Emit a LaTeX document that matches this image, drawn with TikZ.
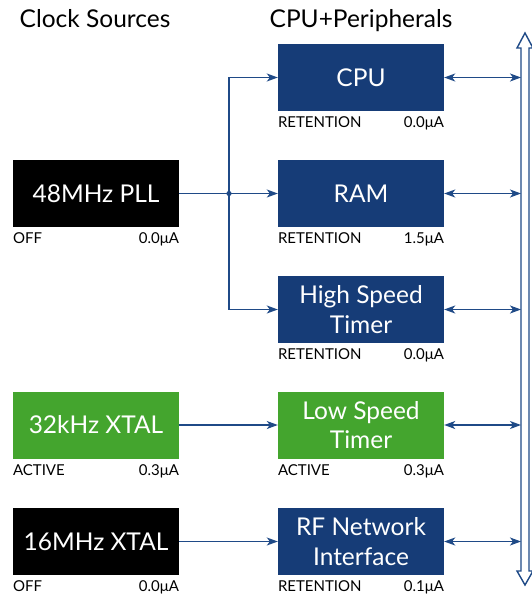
\documentclass[tikz,border=0pt]{standalone}
\usepackage{fontspec}
\setmainfont{Lato}
\usetikzlibrary{arrows.meta}

\definecolor{chipblue}{HTML}{163C77}
\definecolor{chipgreen}{HTML}{44A52E}
\definecolor{wireblue}{HTML}{1F4A87}

\begin{document}
\begin{tikzpicture}[x=1pt,y=-1pt,
    block/.style={minimum width=166pt,minimum height=67pt,inner sep=0pt,text=white,align=center,font=\fontsize{24.5pt}{29.5pt}\selectfont},
    title/.style={font=\fontsize{24.5pt}{24.5pt}\selectfont,inner sep=0pt,anchor=base},
    state/.style={font=\fontsize{15pt}{15pt}\selectfont,inner sep=0pt},
    wire/.style={draw=wireblue,line width=1.3pt},
    tip/.style={-{Stealth[length=11pt,width=8pt,inset=3pt]}},
    both/.style={{Stealth[length=11pt,width=8pt,inset=3pt]}-{Stealth[length=11pt,width=8pt,inset=3pt]}}]
    \useasboundingbox (0,0) rectangle (531,594);

    % headings
    \node[title] (hsrc) at (95,28) {Clock Sources};
    \node[title] (hper) at (361,28) {CPU+Peripherals};

    % clock sources
    \node[block,fill=black] (pll) at (96,193.5) {48MHz PLL};
    \node[block,fill=chipgreen] (xlow) at (96,425) {32kHz XTAL};
    \node[block,fill=black] (xhigh) at (96,541.5) {16MHz XTAL};

    % cpu and peripherals
    \node[block,fill=chipblue] (cpu) at (361,77.5) {CPU};
    \node[block,fill=chipblue] (ram) at (361,193.5) {RAM};
    \node[block,fill=chipblue] (hst) at (361,309.5) {High Speed\\Timer};
    \node[block,fill=chipgreen] (lst) at (361,425) {Low Speed\\Timer};
    \node[block,fill=chipblue] (rf) at (361,541.5) {RF Network\\Interface};

    % state and current under each block
    \foreach \b/\s/\i in {pll/OFF/0.0, xlow/ACTIVE/0.3, xhigh/OFF/0.0,
        cpu/RETENTION/0.0, ram/RETENTION/1.5, hst/RETENTION/0.0,
        lst/ACTIVE/0.3, rf/RETENTION/0.1} {
      \node[state,anchor=base west] (\b s) at ([yshift=-16.5pt]\b.south west) {\s};
      \node[state,anchor=base east] (\b i) at ([yshift=-16.5pt]\b.south east) {\i μA};
    }

    % clock tree
    \coordinate (split) at (229,193.5);
    \draw[wire,tip] (pll) -- (ram);
    \draw[wire,tip] (split) |- (cpu.west);
    \draw[wire,tip] (split) |- (hst.west);
    \fill[wireblue] (split) circle (2.6pt);
    \draw[wire,tip] (xlow) -- (lst);
    \draw[wire,tip] (xhigh) -- (rf);

    % peripheral bus
    \draw[wireblue,line width=1.4pt,fill=white,line join=miter]
      (525,33) -- (533,48) -- (529,48) -- (529,571) -- (533,571) -- (525,585)
      -- (517,571) -- (521,571) -- (521,48) -- (517,48) -- cycle;
    \coordinate (bus) at (521,0);
    \foreach \b in {cpu,ram,hst,lst,rf}
      \draw[wire,both] (\b.east) -- (\b.east -| bus);
\end{tikzpicture}
\end{document}
